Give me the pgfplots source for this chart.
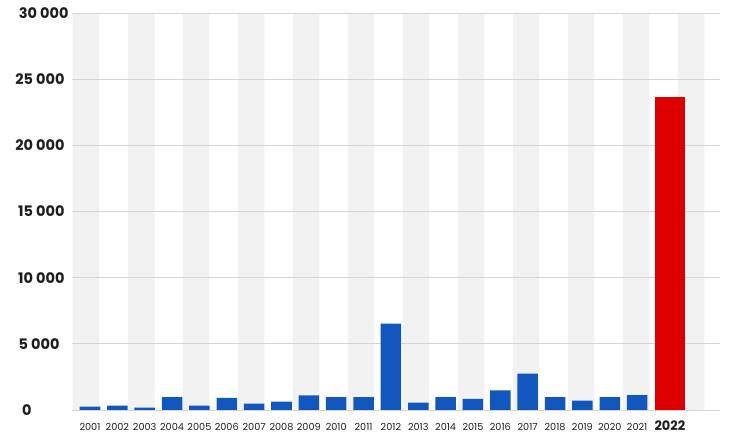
\documentclass[border=0pt]{standalone}
\usepackage{fontspec}
\setmainfont{Poppins}
\usepackage{pgfplots}
\pgfplotsset{compat=1.18}
\definecolor{barblue}{RGB}{17,87,190}
\definecolor{barred}{RGB}{221,0,0}
\definecolor{band}{RGB}{242,242,242}
\definecolor{gridgray}{RGB}{212,212,212}
\definecolor{labtxt}{RGB}{30,30,30}

\begin{document}
\begin{tikzpicture}[x=1pt,y=1pt]
\path (0,0) rectangle (731,439);
\begin{axis}[
    set layers,
    at={(72pt,29pt)}, anchor=south west,
    scale only axis,
    width=648pt, height=397pt,
    xmin=-0.658, xmax=23.03,
    ymin=0, ymax=30000,
    scaled y ticks=false,
    axis line style={draw=none},
    ymajorgrids,
    grid style={gridgray, line width=0.9pt},
    major tick length=0pt,
    ytick={0,5000,10000,15000,20000,25000,30000},
    % labels in the source are not all flush right
    yticklabels={0\hspace*{33pt}, 5 000\hspace*{5pt}, 10 000, 15 000, 20 000, 25 000, 30 000\hspace*{-4pt}},
    yticklabel style={font=\fontsize{14.5}{15}\selectfont\bfseries, text=labtxt, anchor=east, xshift=-4pt},
    xtick={0,...,20},
    xticklabels={2001,2002,2003,2004,2005,2006,2007,2008,2009,2010,2011,2012,2013,2014,2015,2016,2017,2018,2019,2020,2021},
    xticklabel style={font=\fontsize{9.7}{10}\selectfont, text=labtxt, anchor=base, yshift=-21pt},
    extra x ticks={21.2},
    extra x tick labels={2022},
    extra x tick style={xticklabel style={font=\fontsize{13}{14}\selectfont\bfseries}},
]
% background bands (odd years)
\addplot[ybar, bar width=0.97, bar shift=0pt, fill=band, draw=none, on layer=axis background]
  coordinates {(-0.146,30000)(1.876,30000)(3.876,30000)(5.887,30000)(7.898,30000)(9.909,30000)
               (11.92,30000)(13.93,30000)(15.94,30000)(17.95,30000)(19.96,30000)(21.97,30000)};
% 2001-2021
\addplot[ybar, bar width=0.75, bar shift=0pt, fill=barblue, draw=none] coordinates {
  (0,250) (1,330) (2,180) (3,980) (4,330) (5,910) (6,480) (7,630)
  (8,1100) (9,980) (10,980) (11,6520) (12,550) (13,980) (14,850)
  (15,1480) (16,2740) (17,980) (18,700) (19,980) (20,1130)
};
% 2022
\addplot[ybar, bar width=1.1, bar shift=0pt, fill=barred, draw=none] coordinates {(21.2,23660)};
\end{axis}
\end{tikzpicture}
\end{document}
